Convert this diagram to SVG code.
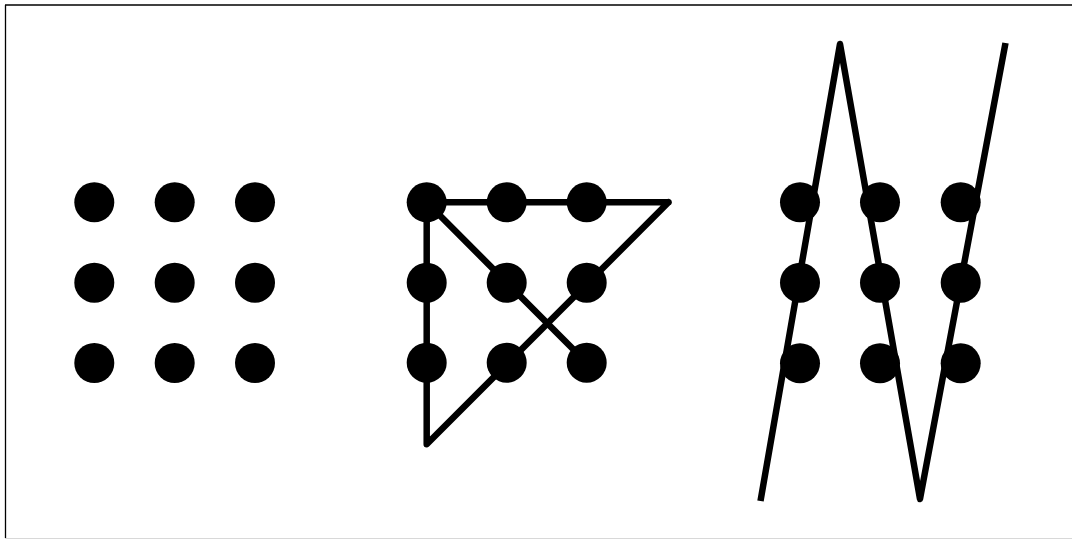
<svg xmlns="http://www.w3.org/2000/svg" width="1072" height="539" viewBox="0 0 1072 539">
<style>
.dot{fill:#000}
.ln{fill:none;stroke:#000;stroke-width:6.5;stroke-linejoin:round}
</style>
<rect x="0" y="0" width="1072" height="539" fill="#fff"/>
<g id="frame">
<line x1="5" y1="5" x2="1072" y2="5" stroke="#000" stroke-width="1.3"/>
<line x1="5.5" y1="5" x2="5.5" y2="538" stroke="#000" stroke-width="1.3"/>
<line x1="5" y1="538.5" x2="1072" y2="538.5" stroke="#d8d8d8" stroke-width="1"/>
</g>
<g id="connectors">
<polyline class="ln" stroke-linecap="round" points="668.5,202.3 426.7,202.3 426.7,444.3 668.5,202.3"/>
<line class="ln" stroke-linecap="round" x1="426.7" y1="202.3" x2="586.7" y2="362.7"/>
<polyline class="ln" stroke-linecap="butt" points="760.5,501 840,44 920,499 1005.5,43"/>
</g>
<g id="grid1">
<circle class="dot" cx="94.3" cy="202.3" r="20"/>
<circle class="dot" cx="174.7" cy="202.3" r="20"/>
<circle class="dot" cx="255" cy="202.3" r="20"/>
<circle class="dot" cx="94.3" cy="282.7" r="20"/>
<circle class="dot" cx="174.7" cy="282.7" r="20"/>
<circle class="dot" cx="255" cy="282.7" r="20"/>
<circle class="dot" cx="94.3" cy="363" r="20"/>
<circle class="dot" cx="174.7" cy="363" r="20"/>
<circle class="dot" cx="255" cy="363" r="20"/>
</g>
<g id="grid2">
<circle class="dot" cx="426.7" cy="202.3" r="20"/>
<circle class="dot" cx="506.7" cy="202.3" r="20"/>
<circle class="dot" cx="586.7" cy="202.3" r="20"/>
<circle class="dot" cx="426.7" cy="282.7" r="20"/>
<circle class="dot" cx="506.7" cy="282.7" r="20"/>
<circle class="dot" cx="586.7" cy="282.7" r="20"/>
<circle class="dot" cx="426.7" cy="362.7" r="20"/>
<circle class="dot" cx="506.7" cy="362.7" r="20"/>
<circle class="dot" cx="586.7" cy="362.7" r="20"/>
</g>
<g id="grid3">
<circle class="dot" cx="800" cy="202.3" r="20"/>
<circle class="dot" cx="880" cy="202.3" r="20"/>
<circle class="dot" cx="960.7" cy="202.3" r="20"/>
<circle class="dot" cx="800" cy="282.7" r="20"/>
<circle class="dot" cx="880" cy="282.7" r="20"/>
<circle class="dot" cx="960.7" cy="282.7" r="20"/>
<circle class="dot" cx="800" cy="363.3" r="20"/>
<circle class="dot" cx="880" cy="363.3" r="20"/>
<circle class="dot" cx="960.7" cy="363.3" r="20"/>
</g>
</svg>
